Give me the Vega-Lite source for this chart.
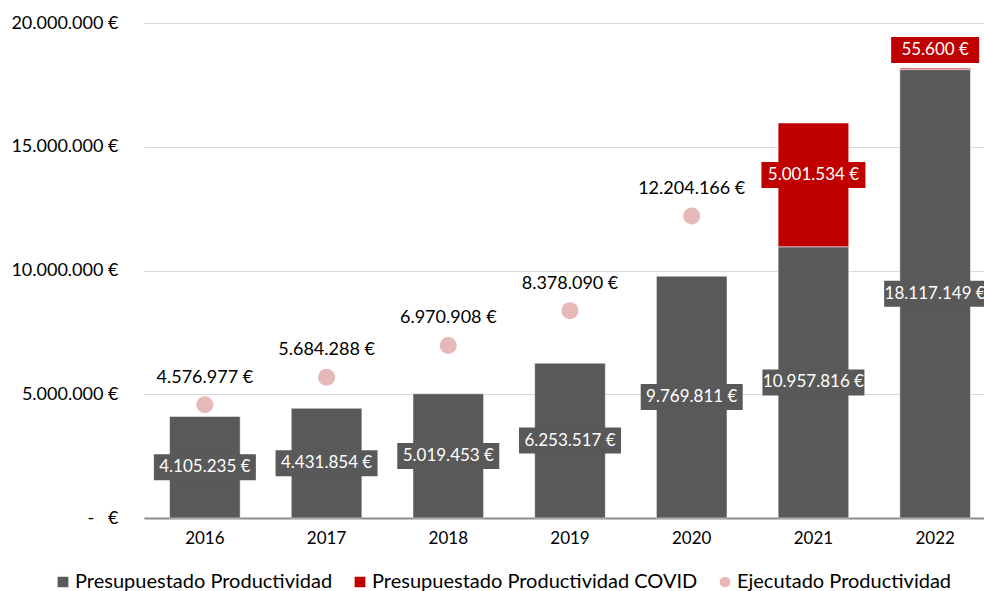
{
  "$schema": "https://vega.github.io/schema/vega-lite/v6.json",
  "autosize": {"type": "none"},
  "padding": {"left": 144, "top": 23, "right": 0, "bottom": 73},
  "width": 852,
  "height": 495,
  "background": "white",
  "config": {
    "font": "Lato",
    "view": {"stroke": null},
    "locale": {"number": {"decimal": ",", "thousands": ".", "grouping": [3], "currency": ["", " €"]}}
  },
  "data": {
    "values": [
      {"year": "2016", "series": "Presupuestado Productividad", "value": 4105235},
      {"year": "2017", "series": "Presupuestado Productividad", "value": 4431854},
      {"year": "2018", "series": "Presupuestado Productividad", "value": 5019453},
      {"year": "2019", "series": "Presupuestado Productividad", "value": 6253517},
      {"year": "2020", "series": "Presupuestado Productividad", "value": 9769811},
      {"year": "2021", "series": "Presupuestado Productividad", "value": 10957816},
      {"year": "2022", "series": "Presupuestado Productividad", "value": 18117149},
      {"year": "2021", "series": "Presupuestado Productividad COVID", "value": 5001534},
      {"year": "2022", "series": "Presupuestado Productividad COVID", "value": 55600},
      {"year": "2016", "series": "Ejecutado Productividad", "value": 4576977},
      {"year": "2017", "series": "Ejecutado Productividad", "value": 5684288},
      {"year": "2018", "series": "Ejecutado Productividad", "value": 6970908},
      {"year": "2019", "series": "Ejecutado Productividad", "value": 8378090},
      {"year": "2020", "series": "Ejecutado Productividad", "value": 12204166}
    ]
  },
  "encoding": {
    "x": {
      "field": "year", "type": "nominal",
      "scale": {"paddingInner": 0.42, "paddingOuter": 0.21},
      "axis": {"title": null, "labelAngle": 0, "labelFontSize": 17, "labelColor": "#000000", "labelPadding": 12, "ticks": false, "domainColor": "#8c8c8c", "domainWidth": 2, "grid": false}
    }
  },
  "layer": [
    {
      "transform": [
        {"filter": "datum.series != 'Ejecutado Productividad'"},
        {"stack": "value", "groupby": ["year"], "sort": [{"field": "series", "order": "ascending"}], "as": ["y0", "y1"]}
      ],
      "mark": {"type": "bar", "stroke": "#ffffff", "strokeWidth": 0.5},
      "encoding": {
        "y": {
          "field": "y0", "type": "quantitative",
          "scale": {"domain": [0, 20000000], "nice": false},
          "axis": {
            "title": null, "values": [0, 5000000, 10000000, 15000000, 20000000],
            "format": ",.0f",
            "labelExpr": "datum.value == 0 ? '-\u00a0\u00a0\u00a0€' : datum.label + ' €'",
            "labelFontSize": 18, "labelColor": "#000000", "labelPadding": 26,
            "ticks": false, "domain": false, "gridColor": "#d9d9d9", "gridWidth": 1
          }
        },
        "y2": {"field": "y1"},
        "color": {
          "field": "series", "type": "nominal",
          "scale": {
            "domain": ["Presupuestado Productividad", "Presupuestado Productividad COVID", "Ejecutado Productividad"],
            "range": ["#595959", "#c00000", "#e6b9b8"]
          },
          "legend": {
            "title": null, "orient": "none", "direction": "horizontal", "columns": 3,
            "legendX": -91, "legendY": 549, "labelFontSize": 20, "labelColor": "#000000", "labelLimit": 0,
            "symbolSize": 150, "labelOffset": 2, "columnPadding": 17, "symbolOpacity": 1
          }
        }
      }
    },
    {
      "transform": [
        {"filter": "datum.series != 'Ejecutado Productividad'"},
        {"stack": "value", "groupby": ["year"], "sort": [{"field": "series", "order": "ascending"}], "as": ["y0", "y1"]},
        {"calculate": "(datum.y0 + datum.y1) / 2", "as": "mid"},
        {"filter": "datum.series == 'Presupuestado Productividad'"}
      ],
      "layer": [
        {
          "mark": {"type": "tick", "size": 102, "thickness": 26, "color": "#595959", "opacity": 1},
          "encoding": {"y": {"field": "mid", "type": "quantitative"}}
        },
        {
          "mark": {"type": "text", "color": "#ffffff", "fontSize": 17, "baseline": "middle", "text": {"expr": "format(datum.value, ',.0f') + ' €'"}},
          "encoding": {
            "y": {"field": "mid", "type": "quantitative"}
          }
        }
      ]
    },
    {
      "transform": [
        {"filter": "datum.series != 'Ejecutado Productividad'"},
        {"stack": "value", "groupby": ["year"], "sort": [{"field": "series", "order": "ascending"}], "as": ["y0", "y1"]},
        {"calculate": "(datum.y0 + datum.y1) / 2", "as": "mid"},
        {"filter": "datum.series == 'Presupuestado Productividad COVID'"}
      ],
      "layer": [
        {
          "mark": {"type": "tick", "size": {"expr": "datum.value < 100000 ? 88 : 104"}, "thickness": 26, "color": "#c00000", "opacity": 1, "yOffset": {"expr": "datum.value < 100000 ? -19 : -10"}},
          "encoding": {"y": {"field": "mid", "type": "quantitative"}}
        },
        {
          "mark": {"type": "text", "color": "#ffffff", "fontSize": 17, "baseline": "middle", "yOffset": {"expr": "datum.value < 100000 ? -19 : -10"}, "text": {"expr": "format(datum.value, ',.0f') + ' €'"}},
          "encoding": {
            "y": {"field": "mid", "type": "quantitative"}
          }
        }
      ]
    },
    {
      "transform": [{"filter": "datum.series == 'Ejecutado Productividad'"}],
      "layer": [
        {
          "mark": {"type": "point", "filled": true, "opacity": 1, "size": 290},
          "encoding": {
            "y": {"field": "value", "type": "quantitative"},
            "color": {"field": "series", "type": "nominal"},
            "shape": {
              "field": "series", "type": "nominal",
              "scale": {
                "domain": ["Presupuestado Productividad", "Presupuestado Productividad COVID", "Ejecutado Productividad"],
                "range": ["square", "square", "circle"]
              }
            }
          }
        },
        {
          "mark": {"type": "text", "color": "#000000", "fontSize": 18, "baseline": "middle", "yOffset": -27},
          "encoding": {
            "y": {"field": "value", "type": "quantitative"},
            "text": {"field": "value", "type": "quantitative", "format": "$,.0f"}
          }
        }
      ]
    }
  ]
}
